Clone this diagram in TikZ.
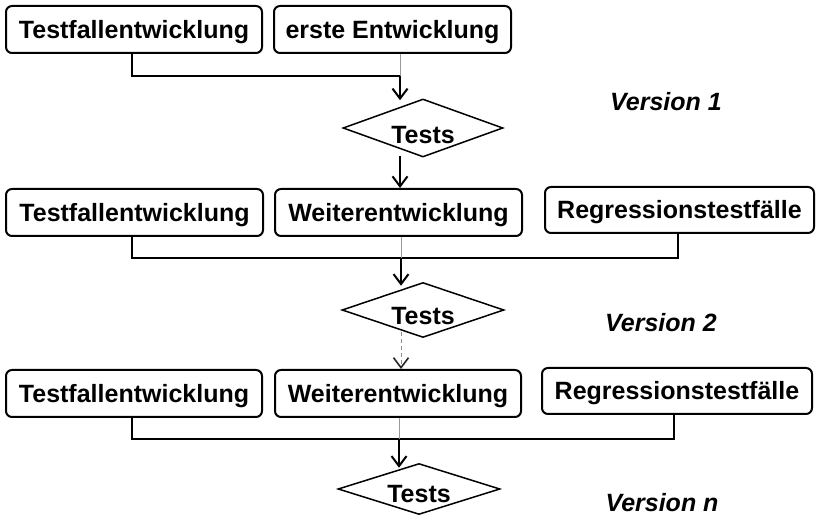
\documentclass[tikz,border=0pt]{standalone}
\usepackage{fontspec}
\setmainfont{Liberation Sans}
\usetikzlibrary{shapes.geometric,arrows.meta}
\begin{document}
\begin{tikzpicture}[x=1pt,y=-1pt,
  box/.style={draw=black,line width=2pt,rounded corners=6pt,inner sep=0pt,
    font=\fontsize{25}{28}\selectfont\bfseries,text height=18pt,text depth=0pt,
    minimum height=47pt},
  dia/.style={draw=black,line width=1.5pt,diamond,inner sep=0pt,aspect=2.8},
  dlabel/.style={font=\fontsize{25}{28}\selectfont\bfseries,text height=18pt,text depth=0pt,inner sep=0pt},
  ver/.style={font=\fontsize{25}{28}\selectfont\bfseries\itshape,inner sep=0pt},
  conn/.style={line width=2pt,black},
  thin/.style={line width=1pt,black!40},
  arr/.style={line width=2pt,black,-{Straight Barb[length=10pt,width=15pt,line width=2pt]}},
  darr/.style={line width=1pt,black!45,dashed,dash pattern=on 4pt off 3pt,-{Straight Barb[length=10pt,width=15pt,line width=1.6pt,color=black!85]}}
]
\useasboundingbox (0,0) rectangle (823,521);
% Row 1
\node[box,minimum width=256pt] (A1) at (134,29.5) {Testfallentwicklung};
\node[box,minimum width=237pt] (B1) at (392.5,29.5) {erste Entwicklung};
\node[dia,minimum width=160pt,minimum height=58pt] (D1) at (423,128) {};
\node[dlabel] (T1) at (423,135) {Tests};
\node[ver] (V1) at (666,102) {Version 1};
\coordinate (J1) at (400,76);
\coordinate (XA1) at (132,76);
\draw[conn] (A1.south -| XA1) -- (XA1) -- (J1);
\draw[thin] (B1.south -| J1) -- (J1);
\draw[arr] (J1) -- ([yshift=-2pt]D1.north -| J1);
% Row 2
\node[box,minimum width=257pt] (A2) at (134.5,212.5) {Testfallentwicklung};
\node[box,minimum width=247pt] (B2) at (398.5,212.5) {Weiterentwicklung};
\node[box,minimum width=269pt,minimum height=46pt] (C2) at (679.5,210) {Regressionstestfälle};
\draw[arr] ([yshift=2pt]D1.south -| J1) -- (B2.north -| J1);
\node[dia,minimum width=162pt,minimum height=55pt] (D2) at (423,310) {};
\node[dlabel] (T2) at (423,316) {Tests};
\node[ver] (V2) at (661,323) {Version 2};
\coordinate (J2) at (401,258);
\coordinate (XA2) at (132,258);
\coordinate (XC2) at (678,258);
\draw[conn] (A2.south -| XA2) -- (XA2) -- (XC2) -- (C2.south -| XC2);
\draw[thin] (B2.south -| J2) -- (J2);
\draw[arr] (J2) -- ([yshift=-4pt]D2.north -| J2);
% Row 3
\node[box,minimum width=256pt] (A3) at (134,393.5) {Testfallentwicklung};
\node[box,minimum width=246pt] (B3) at (398,393.5) {Weiterentwicklung};
\node[box,minimum width=270pt,minimum height=46pt] (C3) at (677,391) {Regressionstestfälle};
\coordinate (S2) at (401,332);
\draw[darr] (S2) -- (B3.north -| S2);
\node[dia,minimum width=162pt,minimum height=51pt] (D3) at (419,489) {};
\node[dlabel] (T3) at (419,494) {Tests};
\node[ver] (Vn) at (662,503) {Version n};
\coordinate (J3) at (399,439);
\coordinate (XA3) at (132,439);
\coordinate (XC3) at (674,439);
\draw[conn] (A3.south -| XA3) -- (XA3) -- (XC3) -- (C3.south -| XC3);
\draw[thin] (B3.south -| J3) -- (J3);
\draw[arr] (J3) -- ([yshift=-5pt]D3.north -| J3);
\end{tikzpicture}
\end{document}
